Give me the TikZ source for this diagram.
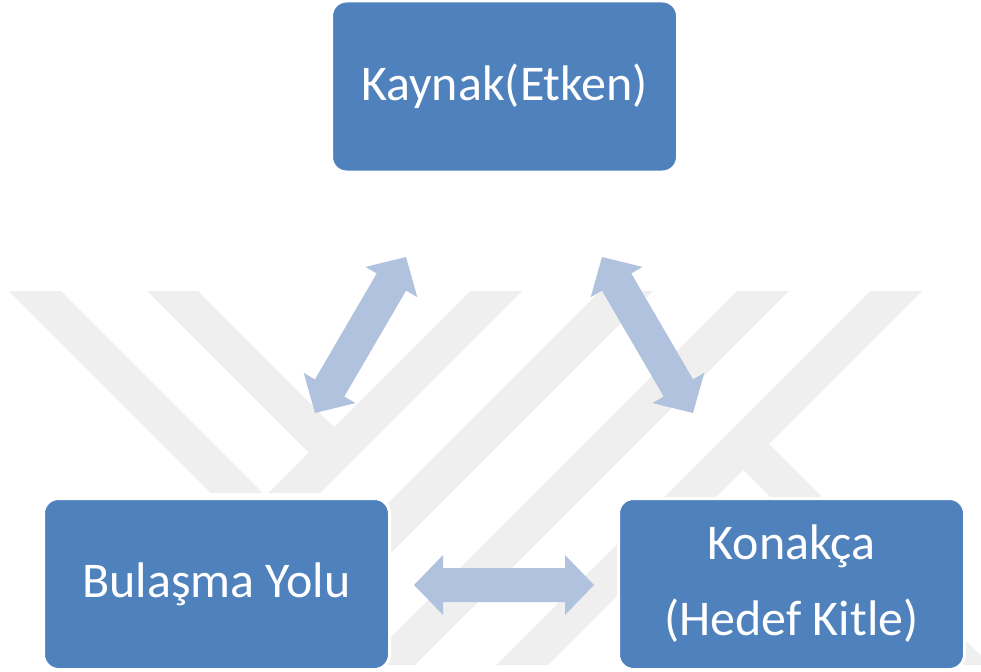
\documentclass[tikz,border=0pt]{standalone}
\usepackage{fontspec}
\setmainfont{Carlito}
\usetikzlibrary{calc}

\definecolor{boxblue}{HTML}{4F81BD}
\definecolor{arrowblue}{HTML}{B0C2DE}
\definecolor{markgray}{HTML}{EFEFEF}

% double block arrow from tip #1 to tip #2
\newcommand{\blockarrow}[2]{%
    \fill[arrowblue] (#1)
        -- ($(#1)!29pt!(#2)!30pt!90:(#2)$)
        -- ($(#1)!29pt!(#2)!17pt!90:(#2)$)
        -- ($(#2)!29pt!(#1)!17pt!-90:(#1)$)
        -- ($(#2)!29pt!(#1)!30pt!-90:(#1)$)
        -- (#2)
        -- ($(#2)!29pt!(#1)!30pt!90:(#1)$)
        -- ($(#2)!29pt!(#1)!17pt!90:(#1)$)
        -- ($(#1)!29pt!(#2)!17pt!-90:(#2)$)
        -- ($(#1)!29pt!(#2)!30pt!-90:(#2)$)
        -- cycle;}

\begin{document}
\begin{tikzpicture}[x=1pt, y=-1pt,
        box/.style={draw=white, line width=3pt, fill=boxblue, rounded corners=15pt,
            minimum width=346pt, minimum height=171pt, text=white,
            font=\fontsize{50}{76}\selectfont},
        watermark/.style={fill=markgray}]

    \useasboundingbox (0,0) rectangle (981,671);

    % watermark in the background
    \fill[watermark] (9,291) -- (61,291) -- (263,493) -- (211,493) -- cycle;

    \fill[watermark] (147,291) -- (198,291) -- (334,427) -- (334,478) -- cycle;

    \fill[watermark] (470,291) -- (522,291) -- (320,493) -- (268,493) -- cycle;

    \fill[watermark] (600,291) -- (653,291) -- (279,665) -- (226,665) -- cycle;

    \fill[watermark] (737,291) -- (789,291) -- (415,665) -- (363,665) -- cycle;

    \fill[watermark] (870,291) -- (922,291) -- (548,665) -- (496,665) -- cycle;

    \fill[watermark] (769,444) -- (981,656) -- (981,665) -- (938,665) -- (743,470) -- cycle;

    % boxes
    \node[box] (kaynak) at (504.5,86.5) {Kaynak(Etken)};

    \node[box] (bulasma) at (216.5,584) {Bulaşma Yolu};

    \node[box, align=center] (konakca) at (791.5,584) {Konakça\\(Hedef Kitle)};

    % arrow ends
    \coordinate (bulasma-up) at (315,413);
    \coordinate (kaynak-left) at (406,257);
    \coordinate (kaynak-right) at (602,257);
    \coordinate (konakca-up) at (693,413);
    \coordinate (bulasma-right) at (414,585);
    \coordinate (konakca-left) at (594,585);

    \blockarrow{bulasma-up}{kaynak-left}

    \blockarrow{kaynak-right}{konakca-up}

    \blockarrow{bulasma-right}{konakca-left}
\end{tikzpicture}
\end{document}
